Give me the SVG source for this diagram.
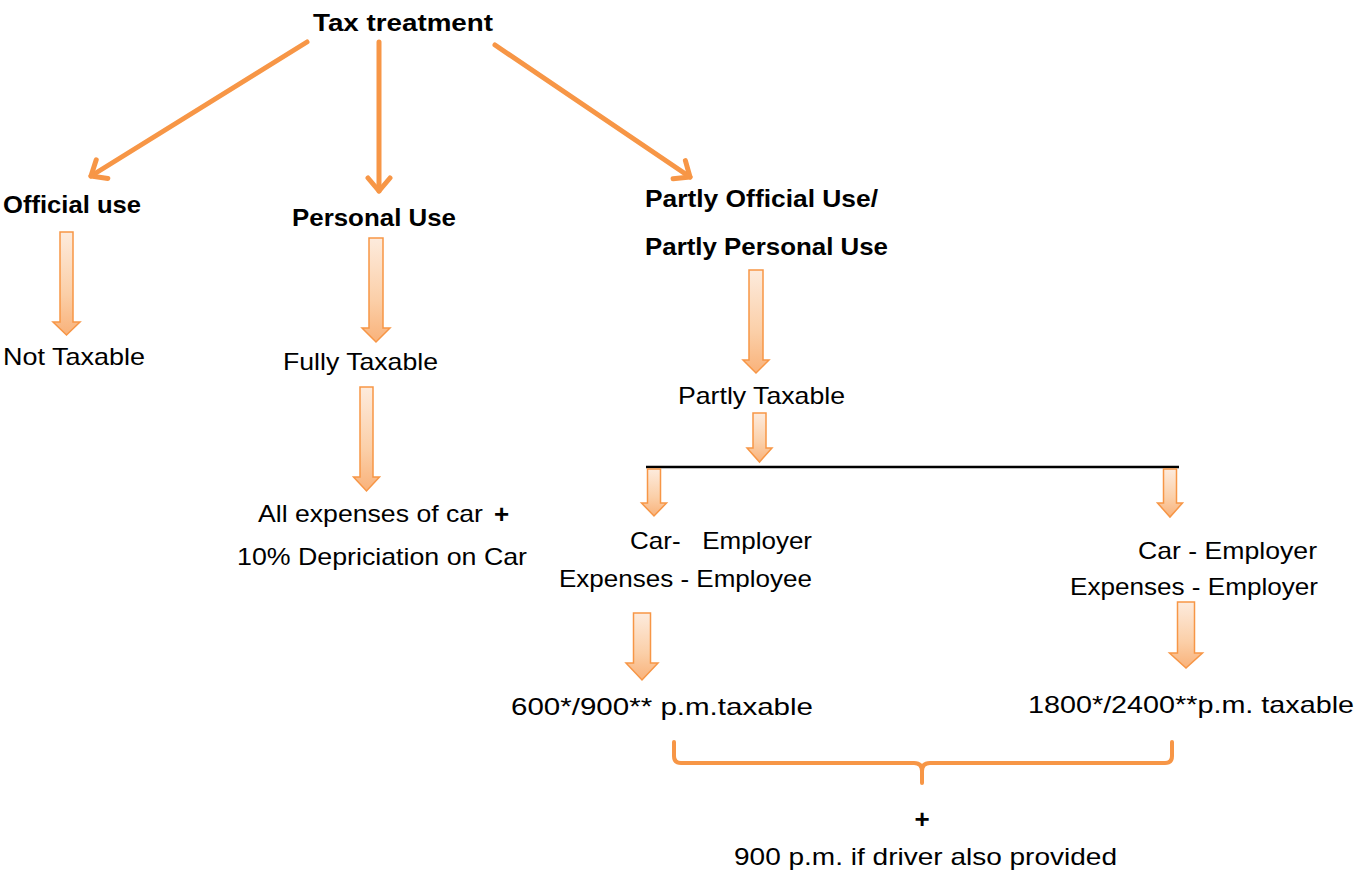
<svg xmlns="http://www.w3.org/2000/svg" width="1367" height="877" viewBox="0 0 1367 877">
<style>
.t{font-family:"Liberation Sans",Arial,sans-serif;font-size:24px;fill:#000;}
.b{font-weight:bold;}
.p{font-size:26px;}
.ln{stroke:#F79646;stroke-width:5;fill:none;stroke-linecap:round;}
.blk{fill:url(#g);stroke:#F79646;stroke-width:1.5;stroke-linejoin:miter;}
.br{stroke:#F79646;stroke-width:4;fill:none;stroke-linecap:round;}
</style>
<defs>
<linearGradient id="g" x1="0" y1="0" x2="0" y2="1">
<stop offset="0" stop-color="#FDEBDD"/>
<stop offset="0.6" stop-color="#FBCFA8"/>
<stop offset="1" stop-color="#F9B27A"/>
</linearGradient>
<marker id="ah" viewBox="-16 -14 20 28" markerWidth="20" markerHeight="28" refX="0" refY="0" orient="auto" markerUnits="userSpaceOnUse">
<path d="M-13,-11 L0,0 L-13,11" fill="none" stroke="#F79646" stroke-width="5" stroke-linecap="round" stroke-linejoin="round"/>
</marker>
</defs>
<rect width="1367" height="877" fill="#fff"/>

<g id="connectors">
<line class="ln" x1="307" y1="42" x2="91" y2="176" marker-end="url(#ah)"/>
<line class="ln" x1="379" y1="42" x2="379" y2="191" marker-end="url(#ah)"/>
<line class="ln" x1="495" y1="45" x2="690" y2="177" marker-end="url(#ah)"/>
<path class="blk" d="M60,232 H73 V322 H80 L66.5,335 L53,322 H60 Z"/>
<path class="blk" d="M369,238 H383 V328 H390 L376,342 L362,328 H369 Z"/>
<path class="blk" d="M360,387 H373 V477 H379.5 L366.5,491 L353.5,477 H360 Z"/>
<path class="blk" d="M749,270 H763 V360 H769 L756,373 L743,360 H749 Z"/>
<path class="blk" d="M753,413 H766 V448 H772 L759.5,462 L747,448 H753 Z"/>
<line x1="646" y1="467" x2="1179" y2="467" stroke="#000" stroke-width="2.5"/>
<path class="blk" d="M647.5,469 H660.5 V503 H666.5 L654,516 L641.5,503 H647.5 Z"/>
<path class="blk" d="M1163.5,469 H1176.5 V503 H1182.5 L1170,517 L1157.5,503 H1163.5 Z"/>
<path class="blk" d="M633.5,613 H650.5 V663 H658 L642,680 L626,663 H633.5 Z"/>
<path class="blk" d="M1177.5,602 H1194.5 V653 H1202.5 L1186,668 L1169.5,653 H1177.5 Z"/>
<path class="br" d="M674,742 L674,756 Q674,763 681,763 L914,763 Q922,763 922,771 L922,783 M922,771 Q922,763 930,763 L1165,763 Q1172,763 1172,756 L1172,742"/>
</g>

<g id="node-tax-treatment"><text class="t b" x="313" y="31" textLength="180" lengthAdjust="spacingAndGlyphs">Tax treatment</text></g>
<g id="node-official-use"><text class="t b" x="3" y="213" textLength="138" lengthAdjust="spacingAndGlyphs">Official use</text></g>
<g id="node-not-taxable"><text class="t" x="3" y="365" textLength="142" lengthAdjust="spacingAndGlyphs">Not Taxable</text></g>
<g id="node-personal-use"><text class="t b" x="292" y="226" textLength="164" lengthAdjust="spacingAndGlyphs">Personal Use</text></g>
<g id="node-fully-taxable"><text class="t" x="283" y="370" textLength="155" lengthAdjust="spacingAndGlyphs">Fully Taxable</text></g>
<g id="node-all-expenses">
<text class="t" x="258" y="522" textLength="225" lengthAdjust="spacingAndGlyphs">All expenses of car</text>
<text class="t b p" x="494" y="523">+</text>
<text class="t" x="237" y="565" textLength="290" lengthAdjust="spacingAndGlyphs">10% Depriciation on Car</text>
</g>
<g id="node-partly-use">
<text class="t b" x="645" y="207" textLength="233" lengthAdjust="spacingAndGlyphs">Partly Official Use/</text>
<text class="t b" x="645" y="255" textLength="243" lengthAdjust="spacingAndGlyphs">Partly Personal Use</text>
</g>
<g id="node-partly-taxable"><text class="t" x="678" y="404" textLength="167" lengthAdjust="spacingAndGlyphs">Partly Taxable</text></g>
<g id="node-employee-expenses">
<text class="t" x="630" y="549" textLength="182" lengthAdjust="spacingAndGlyphs" xml:space="preserve">Car-   Employer</text>
<text class="t" x="559" y="587" textLength="253" lengthAdjust="spacingAndGlyphs">Expenses - Employee</text>
</g>
<g id="node-employer-expenses">
<text class="t" x="1138" y="559" textLength="179" lengthAdjust="spacingAndGlyphs">Car - Employer</text>
<text class="t" x="1070" y="595" textLength="248" lengthAdjust="spacingAndGlyphs">Expenses - Employer</text>
</g>
<g id="node-600"><text class="t" x="511" y="715" textLength="302" lengthAdjust="spacingAndGlyphs">600*/900** p.m.taxable</text></g>
<g id="node-1800"><text class="t" x="1028" y="713" textLength="326" lengthAdjust="spacingAndGlyphs">1800*/2400**p.m. taxable</text></g>
<g id="node-driver">
<text class="t b p" x="922" y="828" text-anchor="middle">+</text>
<text class="t" x="734" y="865" textLength="383" lengthAdjust="spacingAndGlyphs">900 p.m. if driver also provided</text>
</g>
</svg>
